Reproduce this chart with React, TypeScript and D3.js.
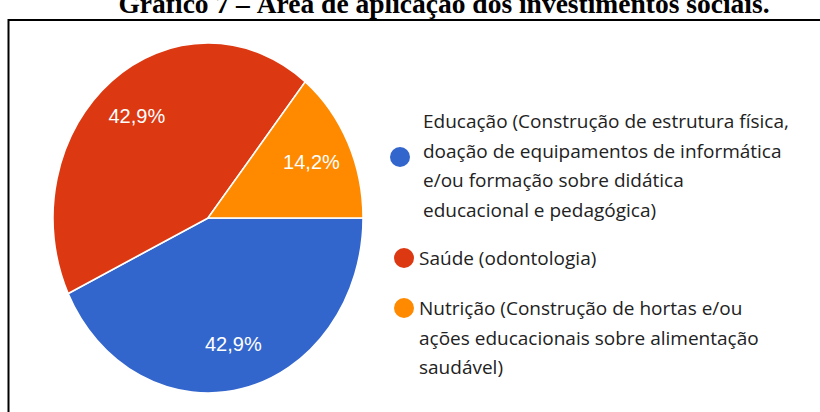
import React from "react";
import * as d3 from "d3";

const title = "Gráfico 7 – Área de aplicação dos investimentos sociais.";
const categories = ["Educação", "Saúde", "Nutrição"];
const values = [42.9, 42.9, 14.2];
const valueLabels = ["42,9%", "42,9%", "14,2%"];
const legendLines = [
  [
    "Educação (Construção de estrutura física,",
    "doação de equipamentos de informática",
    "e/ou formação sobre didática",
    "educacional e pedagógica)",
  ],
  ["Saúde (odontologia)"],
  [
    "Nutrição (Construção de hortas e/ou",
    "ações educacionais sobre alimentação",
    "saudável)",
  ],
];
const colors = ["#3366CC", "#DC3912", "#FF8A00"];

const W = 820;
const H = 412;
const cx = 208;
const cy = 218;
const rx = 155;
const ry = 175;
const sy = ry / rx;

// legend layout
const legendDotY = [157, 258, 308];
const legendFirstLineY = [121, 258, 308];
const legendTextX = [423, 419, 419];
const legendDotX = [400, 404, 404];
const lineH = 29.5;

export default function App() {
  const data = categories.map((c, i) => ({ c, v: values[i], i }));
  const pie = d3
    .pie<any>()
    .sort(null)
    .value((d) => d.v)
    .startAngle(Math.PI / 2)
    .endAngle(Math.PI / 2 + 2 * Math.PI);
  const arcs = pie(data);
  const arc = d3.arc<any>().innerRadius(0).outerRadius(rx);
  const labelArc = d3.arc<any>().innerRadius(rx * 0.74).outerRadius(rx * 0.74);

  return (
    <svg
      width={W}
      height={H}
      style={{ position: "fixed", left: 0, top: 0, background: "#fff" }}
    >
      <rect x={0} y={0} width={W} height={H} fill="#fff" />
      <text
        x={444}
        y={13}
        textAnchor="middle"
        fontFamily="'Liberation Serif', 'Times New Roman', serif"
        fontWeight="bold"
        fontSize={27.5}
        fill="#000"
      >
        {title}
      </text>
      <line x1={8} y1={20} x2={W} y2={20} stroke="#000" strokeWidth={2} />
      <line x1={8.5} y1={19} x2={8.5} y2={H} stroke="#000" strokeWidth={2} />

      <g transform={`translate(${cx},${cy}) scale(1,${sy})`}>
        {arcs.map((a, i) => (
          <path
            key={i}
            d={arc(a) as string}
            fill={colors[i]}
            stroke="#fff"
            strokeWidth={1.5}
          />
        ))}
      </g>
      {arcs.map((a, i) => {
        const [lx, ly] = labelArc.centroid(a);
        return (
          <text
            key={i}
            x={cx + lx}
            y={cy + ly * sy}
            textAnchor="middle"
            dominantBaseline="central"
            fontFamily="'Liberation Sans', Arial, sans-serif"
            fontSize={20}
            fill="#fff"
          >
            {valueLabels[i]}
          </text>
        );
      })}

      {legendLines.map((lines, i) => (
        <g key={i}>
          <circle cx={legendDotX[i]} cy={legendDotY[i]} r={10} fill={colors[i]} />
          {lines.map((ln, j) => (
            <text
              key={j}
              x={legendTextX[i]}
              y={legendFirstLineY[i] + j * lineH}
              dominantBaseline="central"
              fontFamily="'Open Sans', 'Noto Sans', sans-serif"
              fontSize={19}
              fill="#222"
            >
              {ln}
            </text>
          ))}
        </g>
      ))}
    </svg>
  );
}
